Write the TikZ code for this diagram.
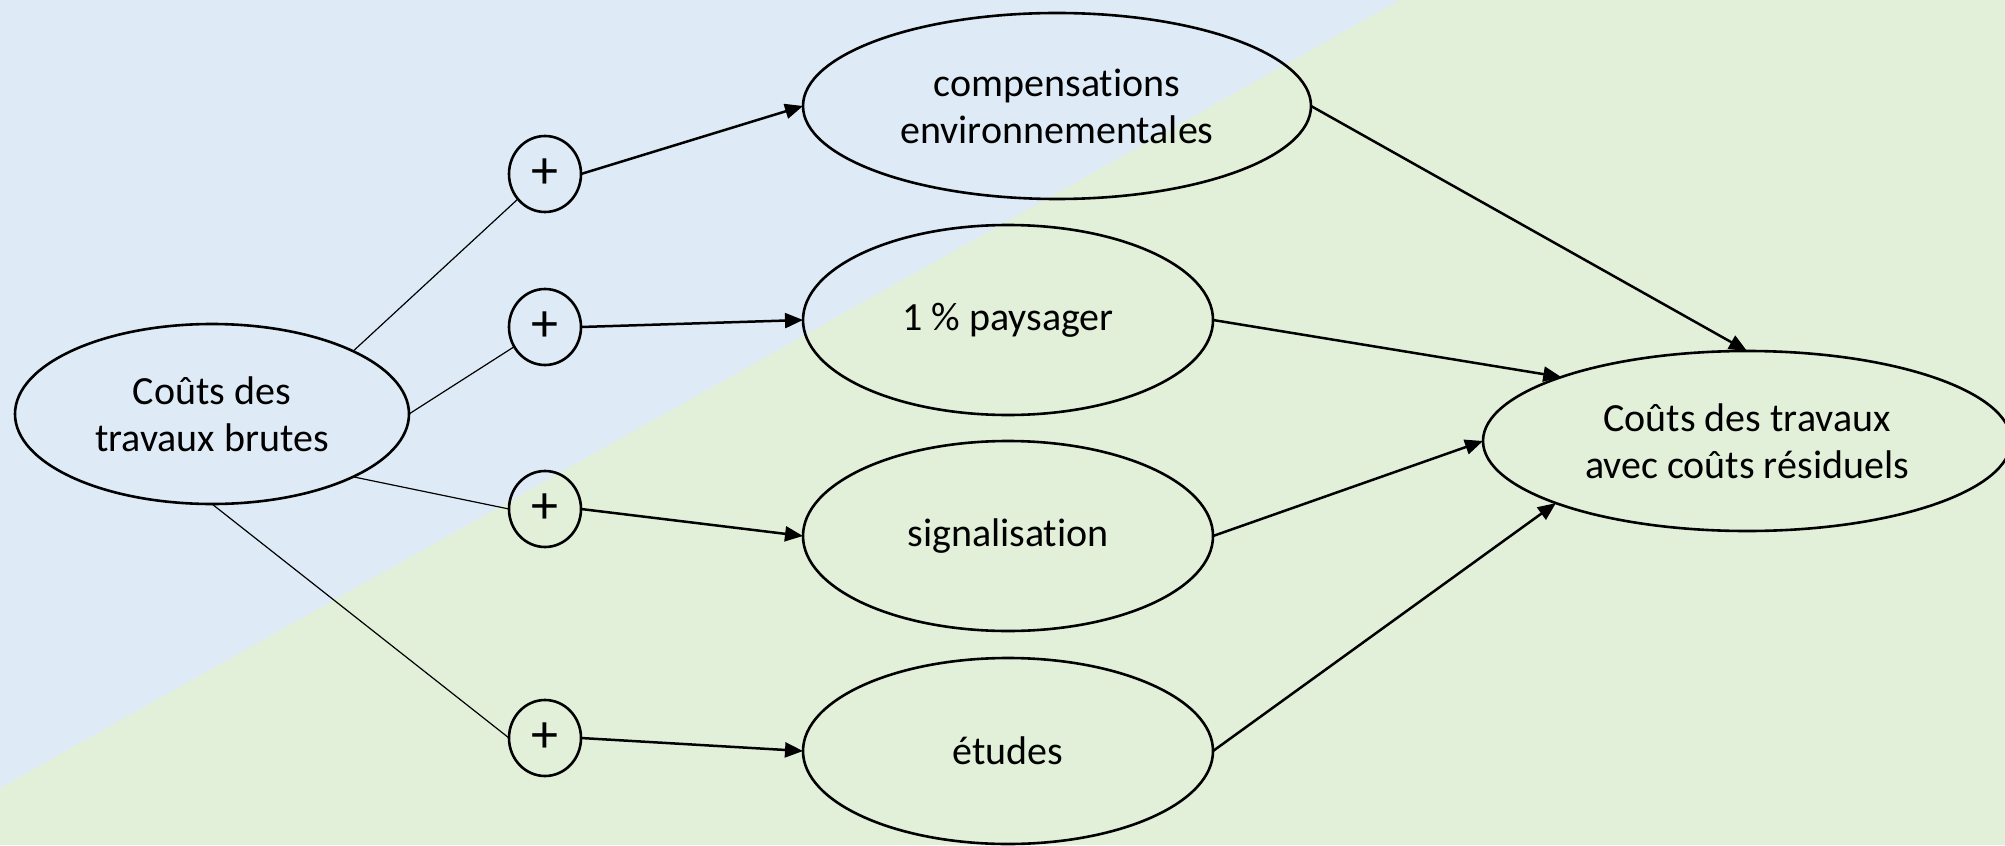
\documentclass[tikz,border=0pt]{standalone}
\usepackage{fontspec}
\setmainfont[Ligatures=NoCommon]{Carlito}
\usetikzlibrary{arrows.meta,shapes.geometric}
\definecolor{bgblue}{HTML}{DEEBF7}
\definecolor{bggreen}{HTML}{E2F0D9}
\begin{document}
\begin{tikzpicture}[x=0.5pt,y=-0.5pt,
  oval/.style={ellipse, draw, line width=1.3pt, inner sep=0pt, outer sep=0pt, align=center, font=\fontsize{20}{23.5}\selectfont},
  plusnode/.style={ellipse, draw, line width=1.3pt, minimum width=36pt, minimum height=38pt, inner sep=0pt, outer sep=0pt, font=\fontsize{27}{30}\selectfont},
  thinlink/.style={line width=0.6pt},
  arr/.style={line width=1.25pt, -{Triangle[length=9pt,width=7.5pt]}}]
\useasboundingbox (0,0) rectangle (2005,845);
\fill[bggreen] (0,0) rectangle (2005,845);
\fill[bgblue] (0,0) -- (1400,0) -- (0,788) -- cycle;
\node[oval, minimum width=197pt, minimum height=90pt] (L) at (212,414) {Coûts des\\travaux brutes};
\node[plusnode] (p1) at (545,174) {+};
\node[plusnode] (p2) at (545,327) {+};
\node[plusnode] (p3) at (545,509) {+};
\node[plusnode] (p4) at (545,738) {+};
\node[oval, minimum width=254pt, minimum height=93pt] (C) at (1057,106) {compensations\\environnementales};
\node[oval, minimum width=205pt, minimum height=95pt] (P) at (1008,320) {1 \% paysager};
\node[oval, minimum width=205pt, minimum height=95pt] (S) at (1008,536) {signalisation};
\node[oval, minimum width=205pt, minimum height=93pt] (E) at (1008,751) {études};
\node[oval, minimum width=264pt, minimum height=90pt] (R) at (1747,441) {Coûts des travaux\\avec coûts résiduels};
\draw[thinlink] (L.24.55) -- (p1);
\draw[thinlink] (L.east) -- (p2);
\draw[thinlink] (L.-24.55) -- (p3.west);
\draw[thinlink] (L.south) -- (p4.west);
\draw[arr] (p1.east) -- (C.west);
\draw[arr] (p2.east) -- (P.west);
\draw[arr] (p3.east) -- (S.west);
\draw[arr] (p4.east) -- (E.west);
\draw[arr] (C.east) -- (R.north);
\draw[arr] (P.east) -- (R.161.2);
\draw[arr] (S.east) -- (R.west);
\draw[arr] (E.east) -- (R.198.8);
\end{tikzpicture}
\end{document}
